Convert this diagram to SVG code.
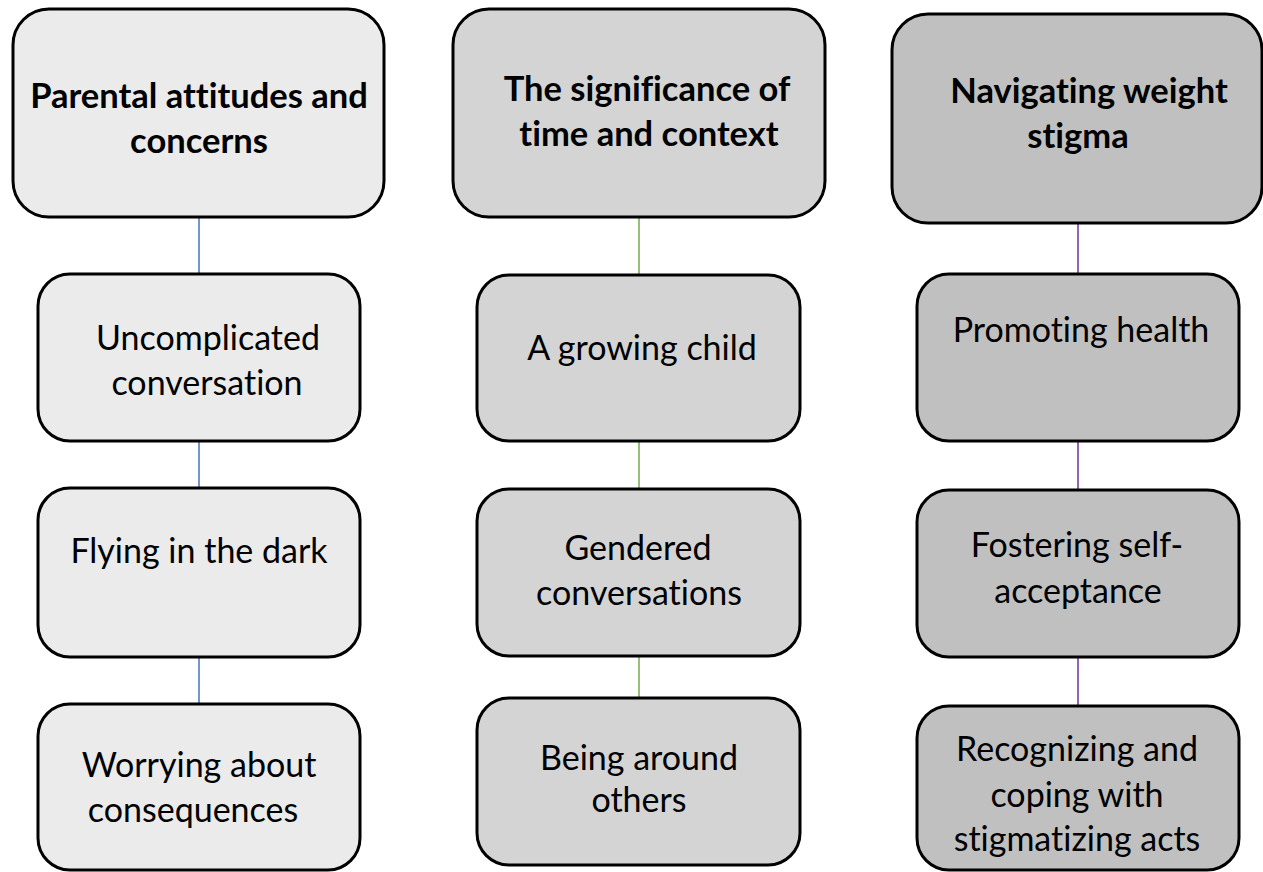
<svg xmlns="http://www.w3.org/2000/svg" width="1263" height="872" viewBox="0 0 1263 872">
<style>
.b{stroke:#000;stroke-width:3}
.c1{fill:#ebebeb}.c2{fill:#d4d4d4}.c3{fill:#c0c0c0}
text{font-family:Lato,"Open Sans",sans-serif;font-size:34px;fill:#000;text-anchor:middle;font-variant-ligatures:none}
.h{font-weight:bold;font-size:34.5px}
</style>
<rect width="1263" height="872" fill="#fff"/>
<g id="connectors" stroke-width="1.5">
<line x1="199" y1="217" x2="199" y2="274" stroke="#4472c4"/>
<line x1="199" y1="441" x2="199" y2="488" stroke="#4472c4"/>
<line x1="199" y1="657" x2="199" y2="704" stroke="#4472c4"/>
<line x1="639" y1="217" x2="639" y2="275" stroke="#70ad47"/>
<line x1="639" y1="441" x2="639" y2="489" stroke="#70ad47"/>
<line x1="639" y1="656" x2="639" y2="698" stroke="#70ad47"/>
<line x1="1078" y1="223" x2="1078" y2="274" stroke="#7030a0"/>
<line x1="1078" y1="441" x2="1078" y2="490" stroke="#7030a0"/>
<line x1="1078" y1="657" x2="1078" y2="706" stroke="#7030a0"/>
</g>
<g id="n1"><rect class="b c1" x="13" y="9" width="371" height="208" rx="36"/><text class="h" x="199" y="108">Parental attitudes and</text><text class="h" x="199" y="153">concerns</text></g>
<g id="n2"><rect class="b c1" x="38" y="274" width="322" height="167" rx="32"/><text x="208" y="350">Uncomplicated</text><text x="207" y="395">conversation</text></g>
<g id="n3"><rect class="b c1" x="38" y="488" width="322" height="169" rx="32"/><text x="199" y="563">Flying in the dark</text></g>
<g id="n4"><rect class="b c1" x="38" y="704" width="322" height="166" rx="32"/><text x="199" y="777">Worrying about</text><text x="193" y="822">consequences</text></g>
<g id="n5"><rect class="b c2" x="453" y="9" width="372" height="208" rx="36"/><text class="h" x="647" y="101">The significance of</text><text class="h" x="649" y="146">time and context</text></g>
<g id="n6"><rect class="b c2" x="477" y="275" width="323" height="166" rx="32"/><text x="642" y="360">A growing child</text></g>
<g id="n7"><rect class="b c2" x="477" y="489" width="323" height="167" rx="32"/><text x="638" y="560">Gendered</text><text x="639" y="605">conversations</text></g>
<g id="n8"><rect class="b c2" x="477" y="698" width="323" height="167" rx="32"/><text x="639" y="770">Being around</text><text x="639" y="812">others</text></g>
<g id="n9"><rect class="b c3" x="892" y="14" width="370" height="209" rx="36"/><text class="h" x="1089" y="103">Navigating weight</text><text class="h" x="1078" y="148">stigma</text></g>
<g id="n10"><rect class="b c3" x="917" y="274" width="322" height="167" rx="32"/><text x="1081" y="342">Promoting health</text></g>
<g id="n11"><rect class="b c3" x="917" y="490" width="322" height="167" rx="32"/><text x="1077" y="557">Fostering self-</text><text x="1078" y="603">acceptance</text></g>
<g id="n12"><rect class="b c3" x="917" y="706" width="322" height="164" rx="32"/><text x="1077" y="761">Recognizing and</text><text x="1077" y="807">coping with</text><text x="1077" y="851">stigmatizing acts</text></g>
</svg>
